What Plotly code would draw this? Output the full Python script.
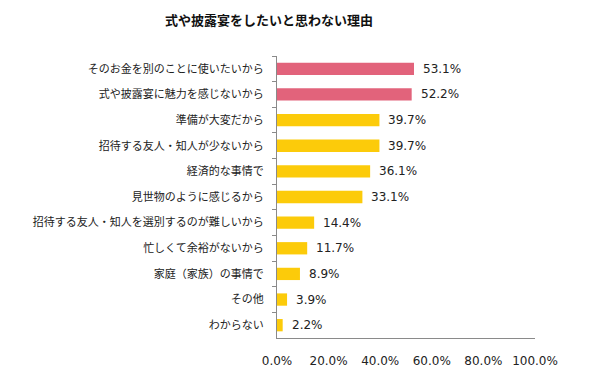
import plotly.graph_objects as go

categories = [
    "そのお金を別のことに使いたいから",
    "式や披露宴に魅力を感じないから",
    "準備が大変だから",
    "招待する友人・知人が少ないから",
    "経済的な事情で",
    "見世物のように感じるから",
    "招待する友人・知人を選別するのが難しいから",
    "忙しくて余裕がないから",
    "家庭（家族）の事情で",
    "その他",
    "わからない",
]
values = [53.1, 52.2, 39.7, 39.7, 36.1, 33.1, 14.4, 11.7, 8.9, 3.9, 2.2]
highlight = [True, True, False, False, False, False, False, False, False, False, False]
x_ticks = [0, 20, 40, 60, 80, 100]

PINK = "#E2637B"
YELLOW = "#FCCB0A"
colors = [PINK if h else YELLOW for h in highlight]

W, H = 600, 380

fig = go.Figure(
    go.Bar(
        y=categories,
        x=values,
        orientation="h",
        marker=dict(color=colors, line=dict(width=0)),
        width=0.48,
        hoverinfo="skip",
    )
)

for c, v in zip(categories, values):
    fig.add_annotation(
        x=v, y=c, text=f"{v:.1f}%", showarrow=False, xanchor="left", xshift=7,
        font=dict(family="DejaVu Sans", size=12, color="#222222"),
    )

fig.update_layout(
    width=W,
    height=H,
    margin=dict(l=277, r=65, t=56, b=38),
    paper_bgcolor="white",
    plot_bgcolor="white",
    showlegend=False,
    title=dict(
        text="<b>式や披露宴をしたいと思わない理由</b>",
        x=269 / W, xanchor="center", y=1 - 20 / H, yanchor="middle",
        font=dict(family="Noto Sans CJK JP", size=13, color="#111111"),
    ),
    xaxis=dict(
        range=[0, 100],
        tickvals=x_ticks,
        ticktext=[f"{t:.1f}%" for t in x_ticks],
        showgrid=False,
        zeroline=False,
        showline=True,
        linecolor="#8a8a8a",
        linewidth=1,
        ticks="",
        ticklabelstandoff=12,
        tickfont=dict(family="DejaVu Sans", size=12, color="#222222"),
        fixedrange=True,
    ),
    yaxis=dict(
        categoryorder="array",
        categoryarray=categories,
        autorange="reversed",
        showgrid=False,
        zeroline=False,
        showline=True,
        linecolor="#8a8a8a",
        linewidth=1,
        ticks="outside",
        tickson="boundaries",
        ticklen=4,
        tickcolor="#8a8a8a",
        ticklabelstandoff=10,
        tickfont=dict(family="Noto Sans CJK JP", size=11, color="#222222"),
        fixedrange=True,
    ),
)

fig.write_html(
    "out.html",
    config={"displayModeBar": False, "staticPlot": True},
    post_script="document.body.style.margin='0';",
)
